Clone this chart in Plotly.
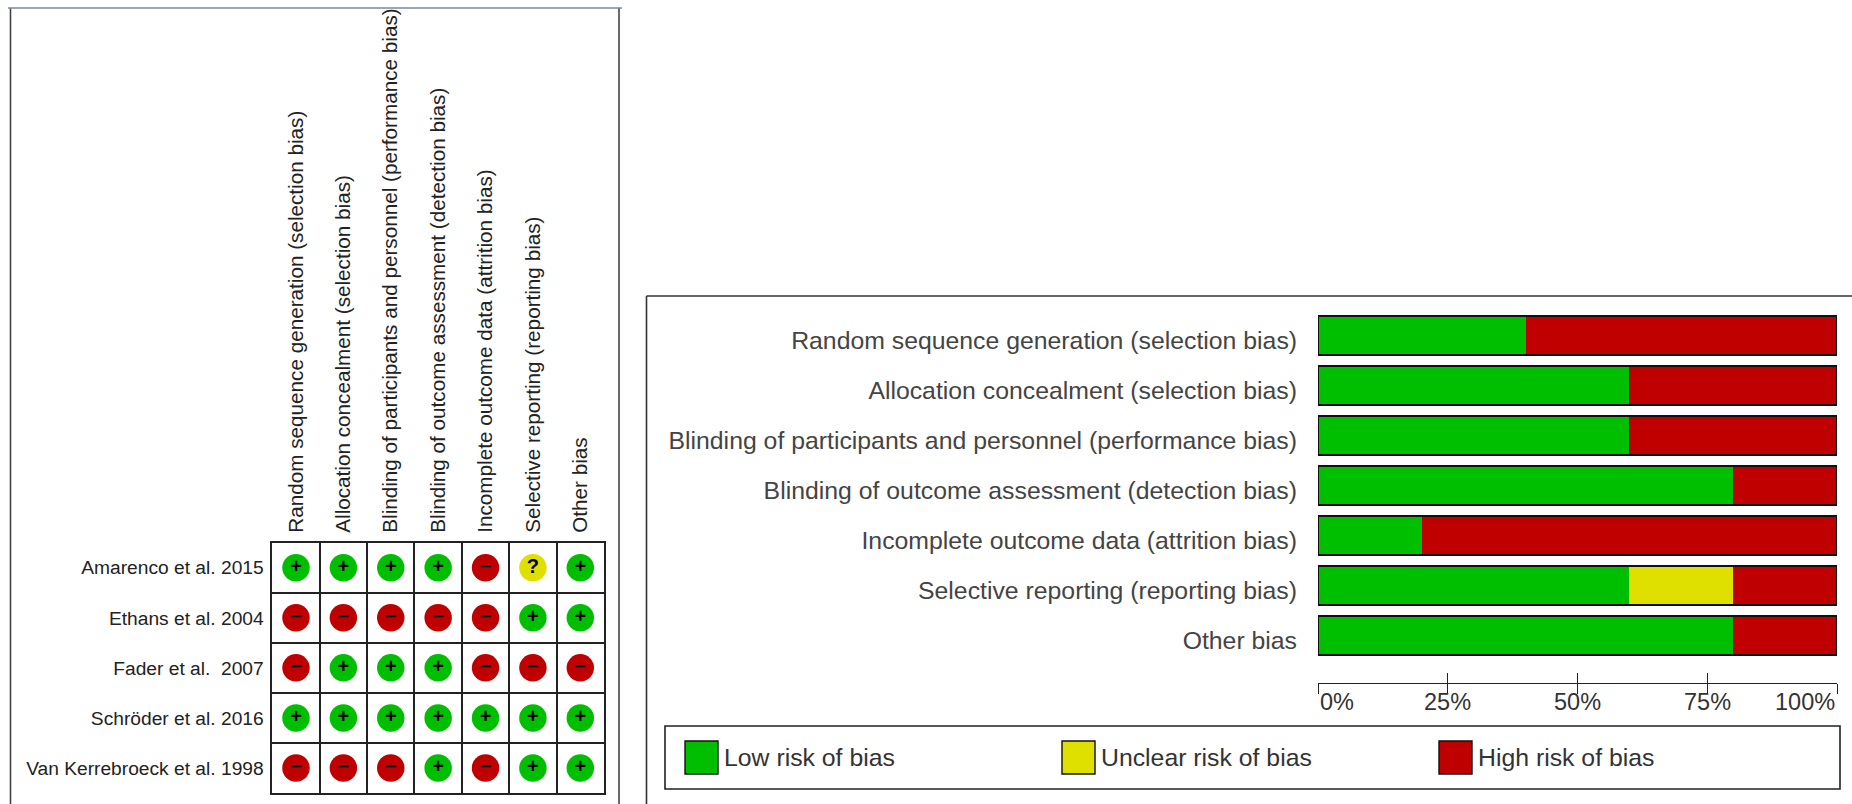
import plotly.graph_objects as go

W, H = 1852, 804

domains = ["Random sequence generation (selection bias)",
           "Allocation concealment (selection bias)",
           "Blinding of participants and personnel (performance bias)",
           "Blinding of outcome assessment (detection bias)",
           "Incomplete outcome data (attrition bias)",
           "Selective reporting (reporting bias)",
           "Other bias"]
studies = ["Amarenco et al. 2015", "Ethans et al. 2004", "Fader et al.\u00a0 2007",
           "Schröder et al. 2016", "Van Kerrebroeck et al. 1998"]
amarenco = ["+", "+", "+", "+", "-", "?", "+"]
ethans = ["-", "-", "-", "-", "-", "+", "+"]
fader = ["-", "+", "+", "+", "-", "-", "-"]
schroder = ["+", "+", "+", "+", "+", "+", "+"]
van_kerrebroeck = ["-", "-", "-", "+", "-", "+", "+"]
judgements = [amarenco, ethans, fader, schroder, van_kerrebroeck]

low_pct = [40, 60, 60, 80, 20, 60, 80]
unclear_pct = [0, 0, 0, 0, 0, 20, 0]
high_pct = [60, 40, 40, 20, 80, 20, 20]
pct_ticks = [0, 25, 50, 75, 100]
pct_labels = ["0%", "25%", "50%", "75%", "100%"]
legend_names = ["Low risk of bias", "Unclear risk of bias", "High risk of bias"]

GREEN, YELLOW, RED = "#00BF00", "#E0E000", "#C00000"
FONT = "Liberation Sans"
TXT_LEFT, TXT_ROW, TXT_RIGHT = 20.7, 19.2, 24.8


def px_x(a, b):
    return [a / W, b / W]


def px_y(top, bottom):
    return [1 - bottom / H, 1 - top / H]


fig = go.Figure()

styles = {"+": (GREEN, "+", "Low"), "?": (YELLOW, "?", "Unclear"), "-": (RED, "\u2212", "High")}
for key, (color, glyph, name) in styles.items():
    xs, ys = [], []
    for r, row in enumerate(judgements):
        for c, v in enumerate(row):
            if v == key:
                xs.append(c)
                ys.append(r)
    fig.add_trace(go.Scatter(x=xs, y=ys, mode="markers+text", name=name, showlegend=False,
                             marker=dict(symbol="circle", size=27.5, color=color, line=dict(width=0)),
                             text=[glyph] * len(xs), textposition="middle center",
                             textfont=dict(family=FONT, size=20, color="black", weight="bold"),
                             xaxis="x", yaxis="y", cliponaxis=False))

for vals, color, name in [(low_pct, GREEN, legend_names[0]),
                          (unclear_pct, YELLOW, legend_names[1]),
                          (high_pct, RED, legend_names[2])]:
    fig.add_trace(go.Bar(y=domains, x=vals, orientation="h", name=name, showlegend=False,
                         marker=dict(color=color, line=dict(width=0)),
                         xaxis="x2", yaxis="y2", width=0.78))

# outline of each whole bar row
fig.add_trace(go.Bar(y=domains, x=[100] * len(domains), orientation="h", showlegend=False,
                     marker=dict(color="rgba(0,0,0,0)", line=dict(width=1.6, color="#111")),
                     xaxis="x4", yaxis="y2", width=0.78))

AX_POS = 1 - 682.5 / H
shapes = []
# left panel border
shapes.append(dict(type="line", xref="paper", yref="paper", x0=10.5 / W, x1=10.5 / W, y0=0, y1=1 - 8 / H,
                   line=dict(color="#444", width=1.6)))
shapes.append(dict(type="line", xref="paper", yref="paper", x0=619 / W, x1=619 / W, y0=0, y1=1 - 8 / H,
                   line=dict(color="#444", width=1.6)))
shapes.append(dict(type="line", xref="paper", yref="paper", x0=8 / W, x1=622 / W, y0=1 - 8 / H, y1=1 - 8 / H,
                   line=dict(color="#7A8A9A", width=1.5)))
# right panel border
shapes.append(dict(type="line", xref="paper", yref="paper", x0=646.5 / W, x1=646.5 / W, y0=0, y1=1 - 296 / H,
                   line=dict(color="#333", width=1.6)))
shapes.append(dict(type="line", xref="paper", yref="paper", x0=646.5 / W, x1=1, y0=1 - 296 / H, y1=1 - 296 / H,
                   line=dict(color="#333", width=1.6)))
# legend box
shapes.append(dict(type="rect", xref="paper", yref="paper", x0=665 / W, x1=1840 / W, y0=1 - 789 / H, y1=1 - 726 / H,
                   line=dict(color="#222", width=1.6), fillcolor="white"))

annotations = []
legend_x = [685, 1062, 1439]
for name, color, lx in zip(legend_names, [GREEN, YELLOW, RED], legend_x):
    shapes.append(dict(type="rect", xref="paper", yref="paper", x0=lx / W, x1=(lx + 33) / W,
                       y0=1 - 774 / H, y1=1 - 741 / H, fillcolor=color, line=dict(color="#111", width=1.4)))
    annotations.append(dict(text=name, xref="paper", yref="paper", x=(lx + 40) / W, y=1 - 757.5 / H,
                            xanchor="left", yanchor="middle", showarrow=False, xshift=-3,
                            font=dict(family=FONT, size=TXT_RIGHT, color="#333")))

anchors = ["left", "center", "center", "center", "right"]
for t, lab, anc in zip(pct_ticks, pct_labels, anchors):
    annotations.append(dict(text=lab, x=t, xref="x2", yref="paper", y=1 - 702 / H, xanchor=anc, yanchor="middle",
                            showarrow=False, font=dict(family=FONT, size=23.5, color="#333")))

fig.update_layout(
    width=W, height=H, margin=dict(l=0, r=0, t=0, b=0), autosize=False,
    paper_bgcolor="white", plot_bgcolor="white", barmode="stack", bargap=0.22,
    shapes=shapes, annotations=annotations, showlegend=False,
    xaxis=dict(domain=px_x(272.3, 604), range=[-0.5, 6.5], side="top", tickmode="array",
               tickvals=list(range(len(domains))), ticktext=domains, tickangle=-90,
               ticks="outside", ticklen=4, tickcolor="rgba(0,0,0,0)", showgrid=False, zeroline=False,
               minor=dict(tick0=0.5, dtick=1, showgrid=True, gridcolor="#222", gridwidth=1.5, ticks=""),
               showline=True, mirror=True, linecolor="#222", linewidth=1.6,
               tickfont=dict(family=FONT, size=TXT_LEFT, color="#222"), fixedrange=True),
    yaxis=dict(domain=px_y(542.7, 793), range=[4.5, -0.5], tickmode="array",
               tickvals=list(range(len(studies))), ticktext=studies,
               ticks="outside", ticklen=3, tickcolor="rgba(0,0,0,0)", showgrid=False, zeroline=False,
               minor=dict(tick0=0.5, dtick=1, showgrid=True, gridcolor="#222", gridwidth=1.5, ticks=""),
               showline=True, mirror=True, linecolor="#222", linewidth=1.6,
               tickfont=dict(family=FONT, size=TXT_ROW, color="#222"), fixedrange=True),
    xaxis2=dict(domain=px_x(1318, 1837), range=[0, 100], anchor="free", position=AX_POS,
                tickmode="array", tickvals=pct_ticks, showticklabels=False, ticks="outside", ticklen=10,
                tickcolor="#222", tickwidth=1.4, showline=True, linecolor="#222", linewidth=1.4,
                showgrid=False, zeroline=False, fixedrange=True),
    xaxis4=dict(domain=px_x(1318, 1837), range=[0, 100], anchor="free", position=AX_POS, overlaying="x2",
                tickmode="array", tickvals=pct_ticks, showticklabels=False, ticks="inside", ticklen=10,
                tickcolor="#222", tickwidth=1.4, showline=False, showgrid=False, zeroline=False, fixedrange=True),
    yaxis2=dict(domain=px_y(310.5, 660.5), anchor="x2", categoryorder="array", categoryarray=domains,
                autorange="reversed", ticks="outside", ticklen=15, tickcolor="rgba(0,0,0,0)",
                ticklabelshift=-5, showline=False, showgrid=False, zeroline=False,
                tickfont=dict(family=FONT, size=TXT_RIGHT, color="#444"), fixedrange=True),
)

fig.write_html("out.html", post_script="document.body.style.margin='0';document.body.style.overflow='hidden';",
               config={"displayModeBar": False})
